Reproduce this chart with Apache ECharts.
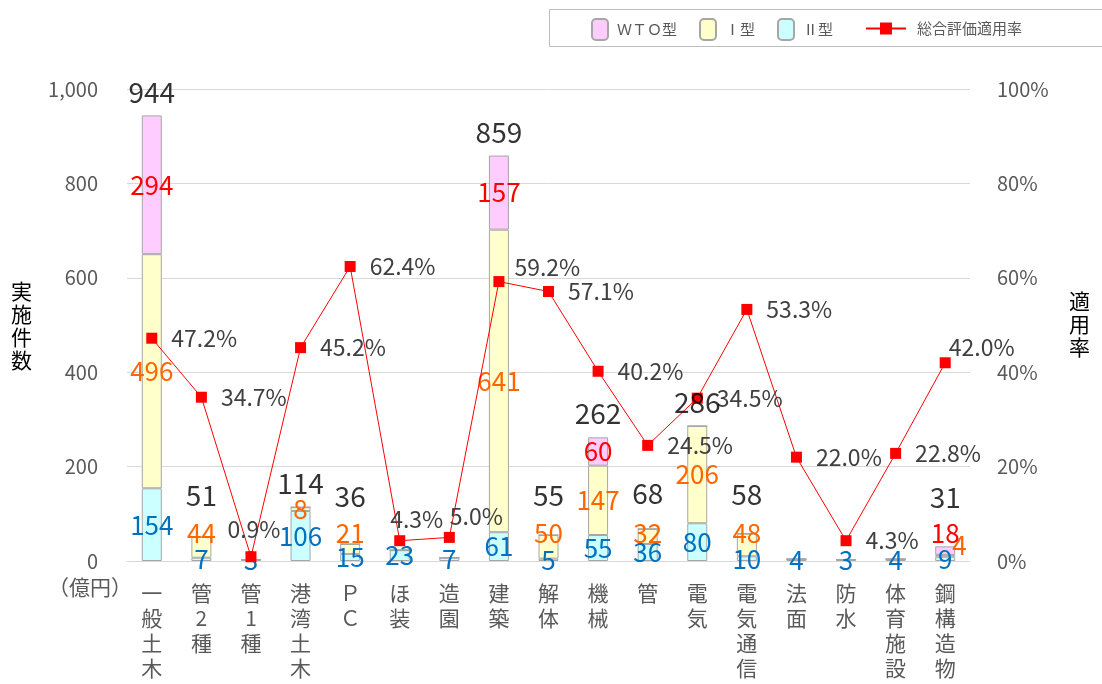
<!DOCTYPE html>
<html>
<head>
<meta charset="utf-8">
<script src="https://cdn.jsdelivr.net/npm/echarts@6/dist/echarts.min.js"></script>
<style>
  html, body { margin: 0; padding: 0; background: #fff; }
  #chart { width: 1102px; height: 684px; }
</style>
</head>
<body>
<div id="chart"></div>
<script>
// categories and values
var categories = ['一般土木', '管2種', '管1種', '港湾土木', 'ＰＣ', 'ほ装', '造園', '建築', '解体', '機械', '管', '電気', '電気通信', '法面', '防水', '体育施設', '鋼構造物'];
var wtoData  = [294, 0, 0, 0, 0, 0, 0, 157, 0, 60, 0, 0, 0, 0, 0, 0, 18];
var type1Data = [496, 44, 0, 8, 21, 0, 0, 641, 50, 147, 32, 206, 48, 0, 0, 0, 4];
var type2Data = [154, 7, 3, 106, 15, 23, 7, 61, 5, 55, 36, 80, 10, 4, 3, 4, 9];
var totals = [944, 51, null, 114, 36, null, null, 859, 55, 262, 68, 286, 58, null, null, null, 31];
var rateData = [47.2, 34.7, 0.9, 45.2, 62.4, 4.3, 5.0, 59.2, 57.1, 40.2, 24.5, 34.5, 53.3, 22.0, 4.3, 22.8, 42.0];

var FONT = '"Noto Sans CJK JP", "Noto Sans", sans-serif';
var gridTop = 89, gridBottom = 123;
var pxPerUnit = (684 - gridTop - gridBottom) / 1000;
var minCenter = 59; // small Ⅰ型/WTO labels are lifted up to about this value

function segItems(vals, below, color, lift) {
  return vals.map(function (v, i) {
    var center = below[i] + v / 2;
    var dy = (lift && center < minCenter) ? -(minCenter - center) * pxPerUnit : 0;
    return { value: v, label: { show: v > 0, color: color, offset: [0, dy] } };
  });
}

var zeros = categories.map(function () { return 0; });
var type2Items = segItems(type2Data, zeros, '#0070C0', false);
var type1Items = segItems(type1Data, type2Data, '#FF6600', true);
var wtoItems = segItems(wtoData, type2Data.map(function (v, i) { return v + type1Data[i]; }), '#FF0000', true);
// the small Ⅰ型 value of 鋼構造物 sits to the right of its bar
type1Items.forEach(function (it, i) {
  if (wtoData[i] > 0 && type1Data[i] < 10) {
    it.label.position = 'right';
    it.label.distance = -3;
    it.label.offset = [0, -11];
  }
});

var totalItems = totals.map(function (v) {
  if (v == null) return null;
  return { value: v, label: { distance: 9 + Math.max(0, 100 - v) * 0.37 } };
});

// placement of some rate labels
var rateLabelPos = {
  '管1種': { position: 'top', distance: 10, offset: [3, 0] },
  'ほ装': { position: 'top', distance: 4, offset: [17, 0] },
  '造園': { position: 'top', distance: 4, offset: [27, 0] },
  '建築': { position: 'right', distance: 10, offset: [0, -14] },
  '鋼構造物': { position: 'right', distance: -2, offset: [0, -15] }
};
var rateItems = rateData.map(function (v, i) {
  var item = { value: v };
  if (rateLabelPos[categories[i]]) item.label = rateLabelPos[categories[i]];
  return item;
});

var barBorder = { borderColor: '#A6A6A6', borderWidth: 1 };

var myChart = echarts.init(document.getElementById('chart'));
var option = {
  animation: false,
  textStyle: { fontFamily: FONT },
  grid: { left: 127, right: 132, top: gridTop, bottom: gridBottom },
  legend: [{
    data: ['ＷＴＯ型', 'Ⅰ型', 'Ⅱ型'],
    left: 586, top: 13,
    itemWidth: 16, itemHeight: 21, itemGap: 22,
    textStyle: { fontFamily: FONT, fontSize: 15, color: '#595959', padding: [0, 0, 0, 4] }
  }, {
    data: ['総合評価適用率'],
    left: 860, top: 16,
    itemWidth: 40, itemHeight: 15,
    textStyle: { fontFamily: FONT, fontSize: 15, color: '#595959', padding: [0, 0, 0, 6] }
  }],
  graphic: [
    { type: 'rect', left: 547, top: 7, shape: { width: 553, height: 37 }, style: { fill: 'none', stroke: '#BFBFBF', lineWidth: 1 }, z: -1 },
    { type: 'text', left: 11, top: 280, style: { text: '実\n施\n件\n数', font: '21px ' + FONT, fill: '#000', lineHeight: 23 } },
    { type: 'text', left: 1069, top: 290, style: { text: '適\n用\n率', font: '21px ' + FONT, fill: '#000', lineHeight: 23 } },
    { type: 'text', left: 48, top: 577, style: { text: '（億円）', font: '21px ' + FONT, fill: '#595959' } }
  ],
  xAxis: {
    type: 'category',
    data: categories,
    axisLine: { lineStyle: { color: '#D9D9D9', width: 1 } },
    axisTick: { show: false },
    axisLabel: {
      interval: 0, margin: 20, color: '#595959', fontSize: 21, lineHeight: 25,
      formatter: function (v) { return v.split('').join('\n'); }
    }
  },
  yAxis: [{
    type: 'value', min: 0, max: 1000, interval: 200,
    axisLine: { show: false }, axisTick: { show: false },
    splitLine: { lineStyle: { color: '#D9D9D9', width: 1 } },
    axisLabel: {
      margin: 29, color: '#595959', fontSize: 20,
      formatter: function (v) { return v.toLocaleString('en-US'); }
    }
  }, {
    type: 'value', min: 0, max: 100, interval: 20,
    axisLine: { show: false }, axisTick: { show: false },
    splitLine: { show: false },
    axisLabel: { margin: 27, color: '#595959', fontSize: 20, formatter: '{value}%' }
  }],
  series: [{
    name: 'Ⅱ型', type: 'bar', stack: 'k', barWidth: 20,
    itemStyle: Object.assign({ color: '#CCFFFF' }, barBorder),
    label: { show: true, position: 'inside', fontSize: 26, fontFamily: FONT },
    data: type2Items
  }, {
    name: 'Ⅰ型', type: 'bar', stack: 'k', barWidth: 20,
    itemStyle: Object.assign({ color: '#FFFFCC' }, barBorder),
    label: { show: true, position: 'inside', fontSize: 26, fontFamily: FONT },
    data: type1Items
  }, {
    name: 'ＷＴＯ型', type: 'bar', stack: 'k', barWidth: 20,
    itemStyle: Object.assign({ color: '#FFCCFF' }, barBorder),
    label: { show: true, position: 'inside', fontSize: 26, fontFamily: FONT },
    data: wtoItems
  }, {
    name: '合計', type: 'scatter', symbolSize: 1, silent: true,
    itemStyle: { color: 'rgba(0,0,0,0)' },
    label: { show: true, position: 'top', color: '#000', fontSize: 28, fontFamily: FONT },
    data: totalItems, z: 5
  }, {
    name: '総合評価適用率', type: 'line', yAxisIndex: 1,
    symbol: 'rect', symbolSize: 11,
    lineStyle: { color: '#FF0000', width: 1 },
    itemStyle: { color: '#FF0000' },
    label: {
      show: true, position: 'right', distance: 14, color: '#404040', fontSize: 23, fontFamily: FONT,
      formatter: function (p) { return p.value.toFixed(1) + '%'; }
    },
    data: rateItems, z: 4
  }]
};
myChart.setOption(option);
</script>
</body>
</html>
